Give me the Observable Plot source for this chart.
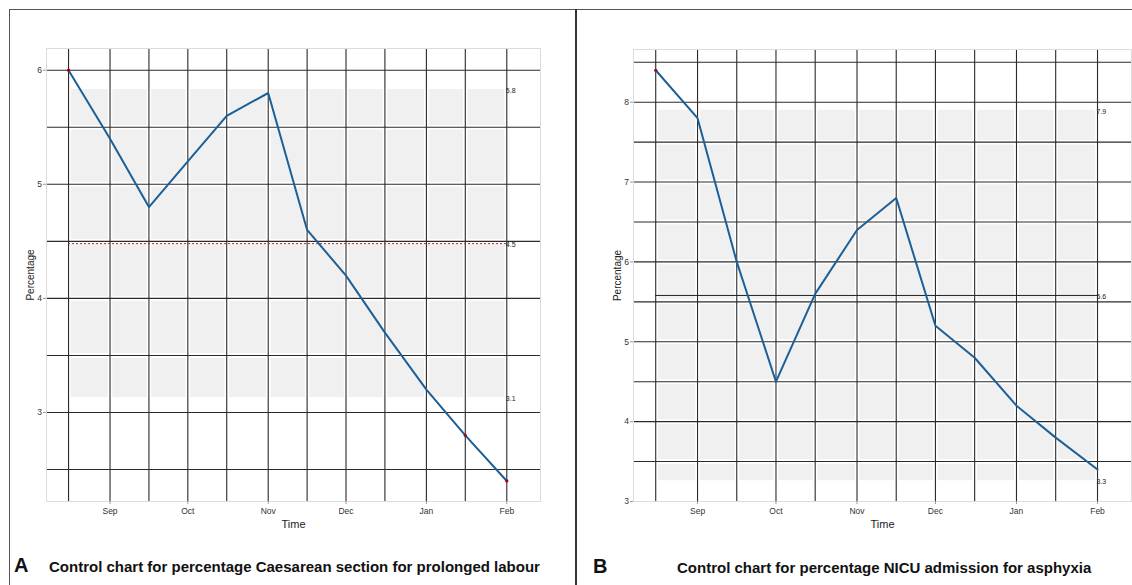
<!DOCTYPE html>
<html>
<head>
<meta charset="utf-8">
<script src="https://cdn.jsdelivr.net/npm/d3@7"></script>
<script src="https://cdn.jsdelivr.net/npm/@observablehq/plot@0.6"></script>
<style>
  html, body { margin: 0; padding: 0; background: #fff; }
  #wrap { position: relative; width: 1132px; height: 585px; overflow: hidden; background: #fff;
          font-family: "Liberation Sans", Arial, sans-serif; }
  .abs { position: absolute; }
  .cap { position: absolute; font-weight: bold; line-height: 1; color: #111; white-space: nowrap; }
</style>
</head>
<body>
<div id="wrap">
  <div class="abs" style="left:9px;top:9px;width:1123px;height:1px;background:#555"></div>
  <div class="abs" style="left:9px;top:9px;width:1px;height:576px;background:#555"></div>
  <div class="abs" style="left:575px;top:9px;width:2px;height:576px;background:#333"></div>
  <div id="chartA" class="abs" style="left:0;top:0"></div>
  <div id="chartB" class="abs" style="left:576px;top:0"></div>
  <div class="cap" style="left:14px;top:555px;font-size:20px">A</div>
  <div class="cap" id="capA" style="left:49px;top:559px;font-size:15px"></div>
  <div class="cap" style="left:593px;top:556px;font-size:20px">B</div>
  <div class="cap" id="capB" style="left:677px;top:560px;font-size:15px"></div>
</div>
<script>
// ---- data ----
const periods = ["2019-08-16","2019-09-01","2019-09-16","2019-10-01","2019-10-16","2019-11-01",
                 "2019-11-16","2019-12-01","2019-12-16","2020-01-01","2020-01-16","2020-02-01"];
const caesareanPct = [6.0, 5.4, 4.8, 5.2, 5.6, 5.8, 4.6, 4.2, 3.7, 3.2, 2.8, 2.4];
const nicuPct      = [8.4, 7.8, 6.0, 4.5, 5.6, 6.4, 6.8, 5.2, 4.8, 4.2, 3.8, 3.4];
// control limits [LCL, CL, UCL]
const caesareanLimits = [3.13, 4.48, 5.83];
const nicuLimits      = [3.26, 5.58, 7.90];
const monthTicks = ["2019-09-01","2019-10-01","2019-11-01","2019-12-01","2020-01-01","2020-02-01"];
const gridA = [2.5, 3, 3.5, 4, 4.5, 5, 5.5, 6];
const tickA = [3, 4, 5, 6];
const gridB = [3, 3.5, 4, 4.5, 5, 5.5, 6, 6.5, 7, 7.5, 8, 8.5];
const tickB = [3, 4, 5, 6, 7, 8];
const titleA = "Control chart for percentage Caesarean section for prolonged labour";
const titleB = "Control chart for percentage NICU admission for asphyxia";
const xDomain = ["2019-08-07T12:00", "2020-02-14T00:00"];

const parse = s => new Date(s.length > 10 ? s + "Z" : s + "T00:00Z");
const dates = periods.map(parse);
const months = monthTicks.map(parse);

function controlChart(values, limits, opts) {
  const data = dates.map((d, i) => ({date: d, value: values[i]}));
  const [lcl, cl, ucl] = limits;
  const first = dates[0], last = dates[dates.length - 1];
  const out = data.filter(d => d.value > ucl || d.value < lcl);
  const font = "Liberation Sans, Arial, sans-serif";
  return Plot.plot({
    width: opts.width, height: 540,
    marginLeft: opts.ml, marginRight: opts.mr, marginTop: opts.mt, marginBottom: 540 - 501,
    style: {fontFamily: font, color: "#333", background: "transparent"},
    x: {type: "utc", domain: xDomain.map(parse)},
    y: {domain: opts.yDomain},
    marks: [
      Plot.rect([0], {x1: first, x2: last, y1: lcl, y2: ucl, fill: "#f0f0f0"}),
      Plot.ruleX(dates, {stroke: "#fff", strokeWidth: 4.5}),
      Plot.ruleY(opts.grid, {stroke: "#fff", strokeWidth: 4.5}),
      Plot.ruleX(dates, {stroke: "#2a2a2a", strokeWidth: 1.1}),
      Plot.ruleY(opts.grid, {stroke: "#2a2a2a", strokeWidth: 1.1}),
      Plot.frame({stroke: "#dcdcdc"}),
      Plot.ruleY([cl], {x1: first, x2: last, stroke: opts.clColor, strokeWidth: 1,
                        strokeDasharray: opts.clDash}),
      Plot.line(data, {x: "date", y: "value", stroke: "#1c5f97", strokeWidth: 2}),
      Plot.dot(out, {x: "date", y: "value", r: 1.6, fill: "#a80000", stroke: null}),
      Plot.text([ucl, cl, lcl], {x: last, y: d => d, text: d => d.toFixed(1), textAnchor: "start",
                                 dx: -1, dy: 1.5, fontSize: 7, fill: "#222"}),
      Plot.axisX({ticks: months, tickFormat: d3.utcFormat("%b"), tickSize: 3, tickPadding: 3,
                  stroke: "#999", fontSize: 8.5, label: null}),
      Plot.axisY({ticks: opts.ticks, tickFormat: d3.format("d"), tickSize: 3, tickPadding: 1.5,
                  stroke: "#999", fontSize: 8.5, label: null}),
      Plot.text(["Time"], {frameAnchor: "bottom", dy: 26, fontSize: 11, fill: "#222"}),
      Plot.text(["Percentage"], {frameAnchor: "left", textAnchor: "middle", dx: -16, rotate: -90,
                                 fontSize: 10, fill: "#222"})
    ]
  });
}

document.getElementById("chartA").appendChild(controlChart(caesareanPct, caesareanLimits, {
  width: 576, ml: 46, mr: 36, mt: 48, yDomain: [2.22, 6.19], grid: gridA, ticks: tickA,
  clColor: "#b22a2a", clDash: "2,2"
}));
document.getElementById("chartB").appendChild(controlChart(nicuPct, nicuLimits, {
  width: 556, ml: 57, mr: 1, mt: 49, yDomain: [3, 8.66], grid: gridB, ticks: tickB,
  clColor: "#222", clDash: null
}));
document.getElementById("capA").textContent = titleA;
document.getElementById("capB").textContent = titleB;
</script>
</body>
</html>
